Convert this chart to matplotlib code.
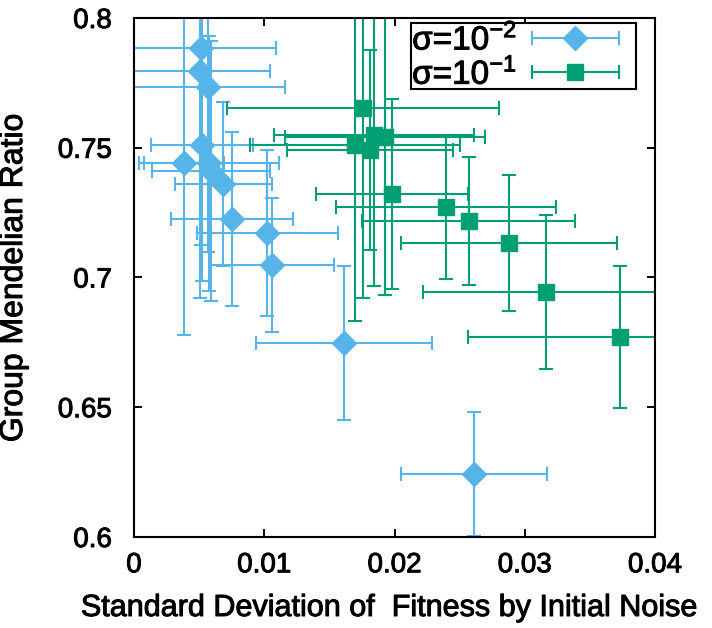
import matplotlib
matplotlib.use("Agg")
import matplotlib.pyplot as plt
import matplotlib.patheffects as pe
from matplotlib.legend_handler import HandlerErrorbar
from matplotlib.patches import Rectangle
import numpy as np

plt.rcParams['font.family'] = ['Liberation Sans', 'DejaVu Sans']
plt.rcParams['mathtext.fontset'] = 'custom'
plt.rcParams['mathtext.rm'] = 'Liberation Sans'
plt.rcParams['mathtext.it'] = 'Liberation Sans'

# sigma = 1e-2 (blue diamonds)
x1 = [0.00512, 0.00507, 0.00570, 0.00520, 0.00386, 0.00576, 0.00589,
      0.00686, 0.00755, 0.01023, 0.01062, 0.01612, 0.02613]
y1 = [0.7883, 0.7797, 0.7735, 0.7511, 0.7442, 0.7440, 0.7412,
      0.7359, 0.7225, 0.7173, 0.7048, 0.6746, 0.6241]
xerr1 = [0.00576, 0.00537, 0.00589, 0.00392, 0.00307, 0.00541, 0.00453,
         0.00372, 0.00468, 0.00542, 0.00476, 0.00676, 0.00560]
yerr1 = [0.0759, 0.0875, 0.0636, 0.0524, 0.0663, 0.0492, 0.0501,
         0.0316, 0.0335, 0.0320, 0.0258, 0.0297, 0.0239]

# sigma = 1e-1 (green squares)
x2 = [0.01756, 0.01697, 0.01812, 0.01843, 0.01927, 0.01979,
      0.02396, 0.02570, 0.02882, 0.03163, 0.03732]
y2 = [0.7652, 0.7511, 0.7491, 0.7549, 0.7543, 0.7322,
      0.7273, 0.7219, 0.7132, 0.6943, 0.6772]
xerr2 = [0.01044, 0.00806, 0.00637, 0.00768, 0.00768, 0.00584,
         0.00845, 0.00818, 0.00829, 0.00944, 0.01167]
yerr2 = [0.0730, 0.0680, 0.0385, 0.0580, 0.0610, 0.0366,
         0.0277, 0.0247, 0.0262, 0.0297, 0.0274]

labels = [r'$\sigma$=10$^{-2}$', r'$\sigma$=10$^{-1}$']
blue = '#56B4E9'
green = '#009E73'

fig = plt.figure(figsize=(7.12, 6.28), dpi=100)
ax = fig.add_axes([134/712, 1-537/628, 521/712, 519/628])

ax.errorbar(x1, y1, xerr=xerr1, yerr=yerr1, fmt='D', color=blue, ms=12,
            elinewidth=1.5, capsize=5, capthick=1.5)
ax.errorbar(x2, y2, xerr=xerr2, yerr=yerr2, fmt='s', color=green, ms=11,
            elinewidth=1.5, capsize=5, capthick=1.5)

# legend proxies (horizontal bar only, like the gnuplot key)
h1 = ax.errorbar([np.nan], [np.nan], xerr=[1], fmt='D', color=blue, ms=12,
                 elinewidth=1.5, capsize=5, capthick=1.5, label=labels[0])
h2 = ax.errorbar([np.nan], [np.nan], xerr=[1], fmt='s', color=green, ms=11,
                 elinewidth=1.5, capsize=5, capthick=1.5, label=labels[1])

ax.set_xlim(0, 0.04)
ax.set_ylim(0.6, 0.8)
ax.set_xticks([0, 0.01, 0.02, 0.03, 0.04])
ax.set_xticklabels(['0', '0.01', '0.02', '0.03', '0.04'])
ax.set_yticks([0.6, 0.65, 0.7, 0.75, 0.8])
ax.set_yticklabels(['0.6', '0.65', '0.7', '0.75', '0.8'])
ax.tick_params(direction='in', length=6, width=1.4, top=True, right=True,
               labelsize=20)
ax.tick_params(axis='y', pad=16)
ax.tick_params(axis='x', pad=11)
for s in ax.spines.values():
    s.set_linewidth(1.5)

ax.set_xlabel('Standard Deviation of  Fitness by Initial Noise', fontsize=22)
ax.set_ylabel('Group Mendelian Ratio', fontsize=23)
ax.xaxis.set_label_coords((388-134)/521, (537-608)/519)
ax.xaxis.label.set_va('center')
ax.yaxis.set_label_coords((14-134)/521, 0.5)
ax.yaxis.label.set_va('center')

# key box drawn separately so the text can sit flush left with a gap on the right
ax.add_patch(Rectangle((411/712, 1-89/628), 225/712, 66/628, transform=fig.transFigure,
                       facecolor='white', edgecolor='black', lw=1.5,
                       clip_on=False, zorder=4))
leg = ax.legend(handles=[h1, h2], loc='upper left',
                bbox_to_anchor=(412/712, 1-22/628), bbox_transform=fig.transFigure,
                markerfirst=False, fontsize=24, handlelength=2.6,
                handler_map={type(h1): HandlerErrorbar(xerr_size=1.3)},
                borderaxespad=0, borderpad=0.0, labelspacing=0.0,
                handletextpad=0.45, frameon=False)

# slightly heavier text, closer to the gnuplot rendering
thick = [pe.withStroke(linewidth=0.7, foreground='black')]
texts = ax.get_xticklabels() + ax.get_yticklabels() + leg.get_texts()
texts += [ax.xaxis.label, ax.yaxis.label]
for t in texts:
    t.set_path_effects(thick)

fig.savefig('out.png', dpi=100)
